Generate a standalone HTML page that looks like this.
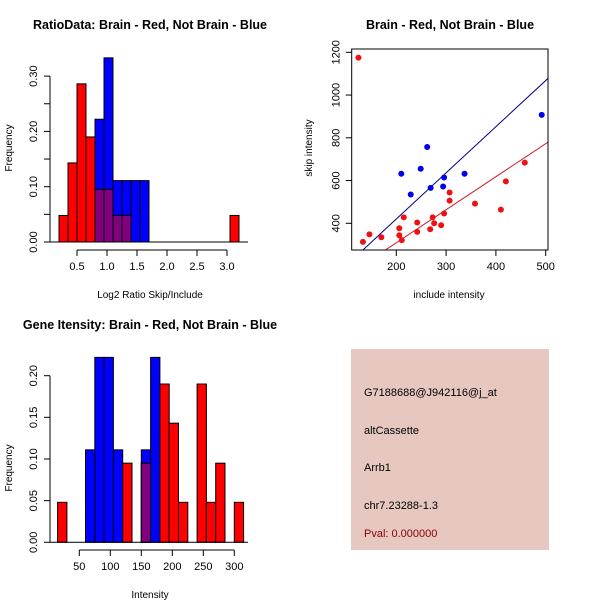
<!DOCTYPE html>
<html><head><meta charset="utf-8"><style>
html,body{margin:0;padding:0;background:#fff;}
svg{display:block;font-family:"Liberation Sans",sans-serif;}
</style></head><body>
<svg id="c" width="600" height="600" viewBox="0 0 600 600">
<rect width="600" height="600" fill="#fff"/>
<g>
<rect x="351" y="349" width="198" height="201" fill="#e6c8c1"/>
<text x="364" y="396" font-size="11">G7188688@J942116@j_at</text>
<text x="364" y="434" font-size="11">altCassette</text>
<text x="364" y="471" font-size="11">Arrb1</text>
<text x="364" y="509" font-size="11">chr7.23288-1.3</text>
<text x="364" y="537" font-size="11" fill="#8b0000">Pval: 0.000000</text>
</g>
</svg>
<script>
// Ratio histogram
const ratioBinStart=0.2, ratioBinW=0.15;
const ratioRed=[0.048,0.143,0.286,0.19,0.095,0.095,0.048,0.048,0,0,0,0,0,0,0,0,0,0,0,0.048];
const ratioBlue=[0,0,0,0,0.222,0.333,0.111,0.111,0.111,0.111];
const ratioXTicks=[0.5,1.0,1.5,2.0,2.5,3.0];
const ratioYTicks=[0,0.05,0.10,0.15,0.20,0.25,0.30];
const ratioYLabels=["0.00","","0.10","","0.20","","0.30"];
// Gene intensity histogram
const geneBinStart=15, geneBinW=15;
const geneRed=[0.048,0,0,0,0,0,0,0.095,0,0.095,0,0.19,0.143,0.048,0,0.19,0.048,0.095,0,0.048];
const geneBlue=[0,0,0,0.111,0.222,0.222,0.111,0,0,0.111,0.222];
const geneXTicks=[50,100,150,200,250,300];
const geneYTicks=[0,0.05,0.10,0.15,0.20];
const geneYLabels=["0.00","0.05","0.10","0.15","0.20"];
// Scatter
const blueX=[210,249,262,229,269,296,294,337,492];
const blueY=[632,655,757,535,566,614,572,632,907];
const redX=[124,133,146,170,206,206,211,215,242,242,268,273,276,290,296,307,307,358,410,420,458];
const redY=[1175,313,348,335,377,344,321,428,404,360,372,428,400,391,446,506,544,492,464,596,684];
const blueFit=[-12,2.16];
const redFit=[0,1.545];
const scXTicks=[200,300,400,500];
const scYTicks=[400,600,800,1000,1200];

const svg=document.getElementById('c');
const NS='http://www.w3.org/2000/svg';
function mk(tag,attrs,parent){const e=document.createElementNS(NS,tag);for(const k in attrs)e.setAttribute(k,attrs[k]);(parent||svg).appendChild(e);return e;}
function txt(x,y,s,size,extra,parent){const t=mk('text',Object.assign({x:x,y:y,'font-size':size,'text-anchor':'middle'},extra||{}),parent);t.textContent=s;return t;}

function hist(cfg){
  const g=mk('g',{});
  
  
  const sx=v=>cfg.x0+(v-cfg.xv0)*cfg.xs;
  const sy=v=>cfg.y0-v*cfg.ys;
  const n=Math.max(cfg.red.length,cfg.blue.length);
  for(let i=0;i<n;i++){
    const r=cfg.red[i]||0,b=cfg.blue[i]||0;
    const a=cfg.start+i*cfg.w, x1=sx(a), x2=sx(a+cfg.w);
    if(b>0){const e=mk('rect',{x:x1,y:sy(b),width:x2-x1,height:sy(0)-sy(b),fill:'#0000ff',stroke:'#000','stroke-width':1},g);
      
      }
    if(r>0){const e=mk('rect',{x:x1,y:sy(r),width:x2-x1,height:sy(0)-sy(r),fill:'#ff0000',stroke:'#000','stroke-width':1},g);
      
      }
    const m=Math.min(r,b);
    if(m>0){const e=mk('rect',{x:x1,y:sy(m),width:x2-x1,height:sy(0)-sy(m),fill:'#800080',stroke:'#000','stroke-width':1},g);
      
      }
  }
  mk('line',{x1:cfg.axL,x2:cfg.axR,y1:sy(0),y2:sy(0),stroke:'#000','stroke-width':1},g);
  mk('line',{x1:50,x2:50,y1:sy(cfg.yt[0]),y2:sy(cfg.yt[cfg.yt.length-1]),stroke:'#000'},g);
  cfg.yt.forEach((v,i)=>{mk('line',{x1:44,x2:50,y1:sy(v),y2:sy(v),stroke:'#000'},g);
    if(cfg.yl[i]){const y=sy(v);txt(33,y,cfg.yl[i],11,{transform:`rotate(-90 33 ${y})`,dy:'4'},g);}});
  const ya=cfg.xaxY;
  mk('line',{x1:sx(cfg.xt[0]),x2:sx(cfg.xt[cfg.xt.length-1]),y1:ya,y2:ya,stroke:'#000'},g);
  cfg.xt.forEach(v=>{mk('line',{x1:sx(v),x2:sx(v),y1:ya,y2:ya+6,stroke:'#000'},g);
    txt(sx(v),ya+20,cfg.xfmt(v),11,{},g);});
  txt(150,cfg.titleY,cfg.title,12.5,{'font-weight':'bold'},g);
  txt(150,cfg.xlabY,cfg.xlab,10,{},g);
  txt(12,cfg.ylabY,'Frequency',10,{transform:`rotate(-90 12 ${cfg.ylabY})`},g);
}
hist({name:'ratio-histogram',red:ratioRed,blue:ratioBlue,start:ratioBinStart,w:ratioBinW,
  x0:77,xv0:0.5,xs:60,y0:242,ys:553,xt:ratioXTicks,yt:ratioYTicks,yl:ratioYLabels,axL:50,axR:248,
  xaxY:250,xfmt:v=>v.toFixed(1),title:'RatioData: Brain - Red, Not Brain - Blue',titleY:29,xlab:'Log2 Ratio Skip/Include',xlabY:298,ylabY:148});
hist({name:'gene-intensity-histogram',red:geneRed,blue:geneBlue,start:geneBinStart,w:geneBinW,
  x0:79.3,xv0:50,xs:0.62,y0:232.3,ys:833,xt:geneXTicks,yt:geneYTicks,yl:geneYLabels,axL:50,axR:248,
  xaxY:240,xfmt:v=>String(v),title:'Gene Itensity: Brain - Red, Not Brain - Blue',titleY:19,xlab:'Intensity',xlabY:288,ylabY:158});
svg.lastChild.setAttribute('transform','translate(0,310)');

(function(){
  const g=mk('g',{});
  
  
  const L=351.7,R=548,T=49,B=250;
  const sx=v=>396.3+(v-200)*0.498;
  const sy=v=>223.3-(v-400)*0.21375;
  const xmin=(L-396.3)/0.498+200, xmax=(R-396.3)/0.498+200, ymin=400-(B-223.3)/0.21375;
  const clip=mk('clipPath',{id:'scClip'},g);mk('rect',{x:L,y:T,width:R-L,height:B-T},clip);
  const pg=mk('g',{'clip-path':'url(#scClip)'},g);
  function fit(f,col,name){
    let xa=Math.max(xmin,(ymin-f[0])/f[1]);
    const l=mk('line',{x1:sx(xa),y1:sy(f[0]+f[1]*xa),x2:sx(xmax),y2:sy(f[0]+f[1]*xmax),stroke:col,'stroke-width':1},pg);
    
    
  }
  fit(blueFit,'#00008b','blue-fit-line');
  fit(redFit,'#cd1a1a','red-fit-line');
  blueX.forEach((x,i)=>{const c=mk('circle',{cx:sx(x),cy:sy(blueY[i]),r:3,fill:'#0000ee'},pg);
    
    });
  redX.forEach((x,i)=>{const c=mk('circle',{cx:sx(x),cy:sy(redY[i]),r:3,fill:'#ee1111'},pg);
    
    });
  mk('rect',{x:L,y:T,width:R-L,height:B-T,fill:'none',stroke:'#000'},g);
  scXTicks.forEach(v=>{mk('line',{x1:sx(v),x2:sx(v),y1:B,y2:B+6,stroke:'#000'},g);txt(sx(v),B+20,String(v),11,{},g);});
  scYTicks.forEach(v=>{const y=sy(v);mk('line',{x1:L-6,x2:L,y1:y,y2:y,stroke:'#000'},g);
    txt(L-16,y,String(v),11,{transform:`rotate(-90 ${L-16} ${y})`,dy:'4'},g);});
  txt(450,29,'Brain - Red, Not Brain - Blue',12.5,{'font-weight':'bold'},g);
  txt(449,298,'include intensity',10,{},g);
  txt(312,148,'skip intensity',10,{transform:'rotate(-90 312 148)'},g);
})();
</script>
</body></html>
